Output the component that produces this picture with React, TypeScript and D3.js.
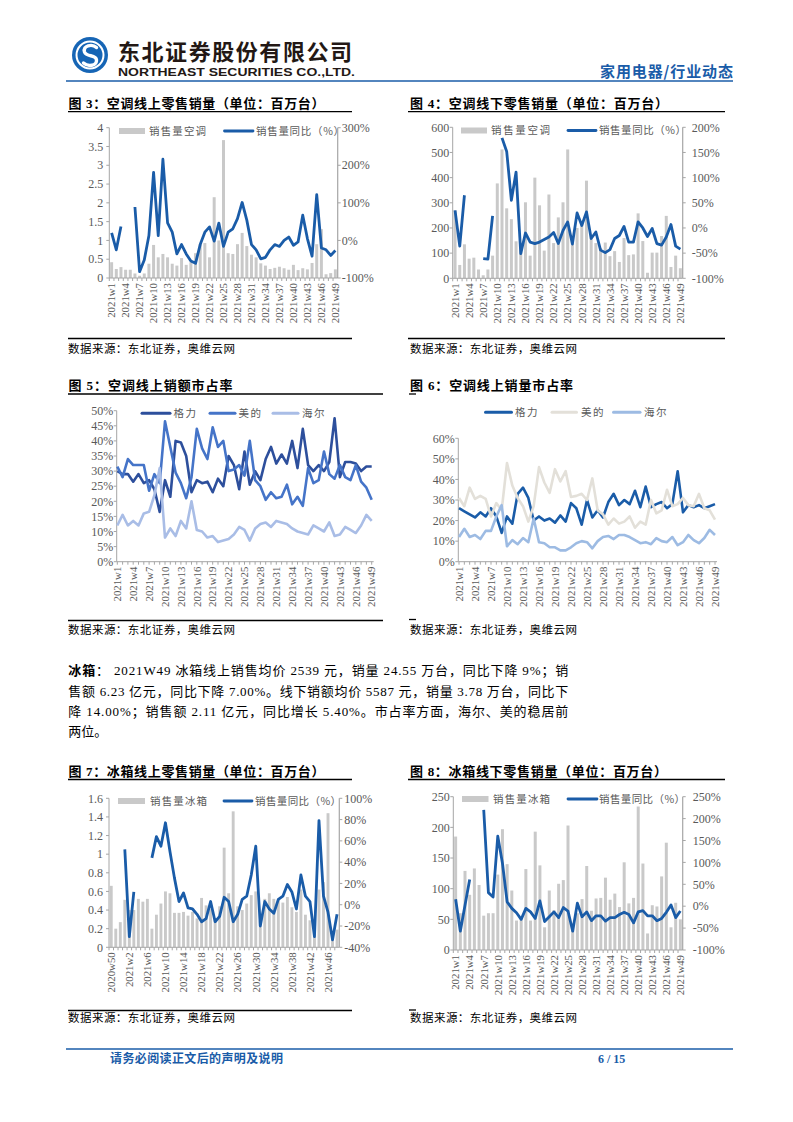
import React from 'react';
import * as d3 from 'd3';

// ---------------- data ----------------
const weeks2021 = d3.range(1, 50).map((w) => `2021w${w}`);
const fridgeOnlineWeeks = ['2020w50', '2020w51', '2020w52', ...d3.range(1, 49).map((w) => `2021w${w}`)];

// Fig 3: AC online retail volume (million units) and YoY (%)
const acOnlineVolume = [0.42, 0.24, 0.29, 0.22, 0.22, 0.12, 0.06, 0.12, 0.38, 0.88, 0.55, 0.64, 0.55, 0.38, 0.33, 0.53, 0.35, 0.42, 0.66, 0.9, 0.93, 0.55, 2.15, 1.0, 3.67, 0.66, 0.64, 0.9, 1.2, 0.85, 0.62, 0.55, 0.39, 0.33, 0.24, 0.27, 0.3, 0.26, 0.22, 0.35, 0.21, 0.26, 0.23, 0.4, 0.9, 1.3, 0.1, 0.13, 0.23];
const acOnlineYoY = [20, -25, 37, null, null, 89, -83, -52, 13, 181, 13, 216, 47, 22, -36, -11, -36, -55, -61, -11, 22, 36, -2, 46, -16, 22, 31, 58, 101, 54, -11, -25, -49, -45, -25, -11, -16, 0, 9, -13, -4, 67, 5, -42, 122, -20, -25, -40, -27];

// Fig 4: AC offline retail volume and YoY
const acOfflineVolume = [270, 53, 135, 78, 82, 35, 12, 35, 90, 377, 512, 278, 235, 147, 120, 302, 90, 400, 290, 110, 333, 140, 242, 302, 512, 150, 200, 220, 388, 170, 140, 120, 142, 88, 108, 65, 160, 92, 95, 258, 148, 22, 102, 102, 168, 248, 45, 90, 40];
const acOfflineYoY = [35, -36, 65, null, null, null, -61, -62, 24, null, 179, 152, 55, 111, -51, -10, -28, -31, -28, -23, -18, -9, -31, -5, 12, -32, 30, 5, 32, -21, -8, -44, -49, -43, -21, -15, 3, -28, -28, 12, 0, -17, -1, -31, -34, -18, 7, -36, -42];

// Fig 5: AC online sales-value market share (%)
const gree5 = [30, 29, 29, 26.5, 29, 26, 27, 24, 16.5, 27, 21.5, 40, 39.5, 35, 23, 27, 26, 26.5, 23, 27.5, 25, 35, 32, 24, 36.5, 25.5, 30, 27, 34, 38, 32.5, 35.5, 32.5, 40, 31, 44, 32, 30, 32, 30, 33, 47.5, 28, 33, 33, 32.5, 30, 31.5, 31.5];
const midea5 = [31.5, 28, 34, 32, 32, 32, 23.5, 29, 26, 46.5, 38, 29.5, 26, 21, 28, 44, 37.5, 34, 44.5, 38, 40, 30, 30.5, 32, 28.5, 40, 27, 25, 20.5, 23, 21, 21.5, 25.5, 19, 21.5, 18.5, 31, 26, 27, 36.5, 29, 27.5, 32, 28, 27, 32, 26.5, 24.5, 20.5];
const haier5 = [12, 15.5, 12, 13.5, 12, 16, 16.5, 22, 31, 8, 11, 8.5, 13.5, 11, 20, 10.5, 10, 8, 8.5, 6.5, 7, 7.5, 9, 11.5, 10.5, 7, 11, 12.5, 13, 11.5, 13.5, 13, 12.5, 11, 10, 9.5, 9, 12, 11, 10, 13, 8.5, 9, 11.5, 10.5, 9.5, 12, 15.5, 13.5];

// Fig 6: AC online volume market share (%)
const gree6 = [26, 24.5, 23, 21.5, 24, 22, 26, 22, 14, 22, 18.5, 33, 36, 31, 20, 22, 20, 21, 19, 22.5, 19.5, 28.5, 26, 18, 30, 21.5, 25, 21.5, 29, 33, 27.5, 30, 28, 34.5, 26.5, 36.5, 26.5, 28, 29, 26, 28, 44, 24, 27.5, 26.5, 27.5, 26, 27, 28];
const midea6 = [31, 27, 36, 30.5, 32, 30.5, 22, 28.5, 25, 48, 37, 31, 27, 19.5, 27, 46, 38.5, 33.5, 45, 39, 44, 31.5, 32, 33, 30, 40.5, 25, 23, 18, 21, 18.5, 19.5, 22, 16.5, 19.5, 18, 30, 23.5, 25, 35, 27, 28, 31, 27.5, 27, 33, 26, 25, 20.5];
const haier6 = [12, 16, 12, 13, 11, 15, 15, 22, 27.5, 7.5, 10.5, 8.5, 11.5, 9.5, 21, 9.5, 9, 7, 7, 5.5, 5.5, 7, 9, 10, 9.5, 6.5, 10, 12, 12.5, 11, 13, 13, 12, 10.5, 9, 9.5, 8.5, 11.5, 10, 9.5, 12, 8, 9.5, 13, 10.5, 9, 11.5, 15.5, 13];

// Fig 7: fridge online retail volume and YoY
const fridgeOnlineVolume = [0.66, 0.2, 0.27, 0.51, 0.4, 0.4, 0.52, 0.49, 0.52, 0.2, 0.35, 0.47, 0.6, 0.58, 0.37, 0.37, 0.38, 0.34, 0.38, 0.31, 0.53, 0.45, 0.41, 0.31, 0.44, 1.07, 0.58, 1.46, 0.44, 0.4, 0.47, 0.56, 0.6, 0.28, 0.52, 0.58, 0.52, 0.52, 0.48, 0.54, 0.43, 0.38, 0.62, 0.35, 0.29, 0.24, 0.62, 0.7, 1.44, 0.16, 0.19];
const fridgeOnlineYoY = [null, null, null, 52, -30, 12, null, null, null, 44, 64, 55, 77, 50, 25, 3, 11, -3, -4, -9, -16, -13, 3, -16, -11, 7, 3, -16, -9, 5, 8, 28, 55, -20, 3, -4, -8, 5, 8, 19, 12, -4, 28, 8, 3, -30, 79, 8, -7, -33, -9];

// Fig 8: fridge offline retail volume and YoY
const fridgeOfflineVolume = [185, 60, 129, 90, 133, 106, 56, 60, 60, 123, 197, 140, 97, 48, 50, 132, 48, 193, 138, 37, 97, 65, 108, 114, 203, 40, 60, 83, 137, 64, 84, 85, 118, 82, 92, 70, 143, 76, 85, 234, 141, 27, 73, 71, 120, 175, 37, 77, 50];
const fridgeOfflineYoY = [16, -57, 2, 61, null, null, 220, 31, 21, 160, 98, 10, -5, -15, -30, -5, -13, -28, 12, -35, -24, -13, -26, -3, -11, -57, 7, -24, -13, -33, -22, -22, -34, -26, -26, -19, -14, -19, -38, -13, -10, -22, -22, -33, -28, -14, 3, -26, -11];

const brandNames = ['格力', '美的', '海尔'];

const paragraphLines = [
  ' 2021W49 冰箱线上销售均价 2539 元，销量 24.55 万台，同比下降 9%；销',
  '售额 6.23 亿元，同比下降 7.00%。线下销额均价 5587 元，销量 3.78 万台，同比下',
  '降 14.00%；销售额 2.11 亿元，同比增长 5.40%。市占率方面，海尔、美的稳居前',
  '两位。',
];

// ---------------- style ----------------
const SERIF = "'Liberation Serif','Times New Roman','Noto Sans CJK SC',serif";
const CJK = "'Noto Sans CJK SC','Liberation Sans',sans-serif";
const BLUE = '#1a5ca8';
const BAR_GRAY = '#c9c9c9';
const AXIS = '#a6a6a6';
const TXT = '#595959';

type Num = number | null;

function fmtNum(v: number) {
  return String(+v.toFixed(2));
}

function XLabels({ xs, labels, y }: { xs: number[]; labels: string[]; y: number }) {
  return (
    <g>
      {labels.map((t, i) => (
        <text
          key={i}
          transform={`translate(${xs[i]},${y}) rotate(-90)`}
          textAnchor="end"
          dy="0.35em"
          fontSize={10.8}
          fill={TXT}
          fontFamily={SERIF}
        >
          {t}
        </text>
      ))}
    </g>
  );
}

type BLProps = {
  cats: string[];
  bars: number[];
  yoy: Num[];
  left: number;
  right: number;
  top: number;
  bottom: number;
  lDomain: [number, number];
  lStep: number;
  rDomain: [number, number];
  rStep: number;
  labelEvery: number;
  lGap: number;
  rGap: number;
  legend: {
    boxX: number; boxW: number; y: number; t1X: number; t1Len: number;
    lX1: number; lX2: number; t2X: number; t2Len: number; label1: string; label2: string;
  };
};

function BarLineChart(p: BLProps) {
  const x = d3.scaleBand<string>().domain(p.cats).range([p.left, p.right]).paddingInner(0.36).paddingOuter(0.18);
  const cx = (i: number) => (x(p.cats[i]) as number) + x.bandwidth() / 2;
  const yL = d3.scaleLinear().domain(p.lDomain).range([p.bottom, p.top]);
  const yR = d3.scaleLinear().domain(p.rDomain).range([p.bottom, p.top]);
  const lTicks = d3.range(p.lDomain[0], p.lDomain[1] + p.lStep / 2, p.lStep);
  const rTicks = d3.range(p.rDomain[0], p.rDomain[1] + p.rStep / 2, p.rStep);
  const line = d3
    .line<Num>()
    .defined((d) => d != null)
    .x((_d, i) => cx(i))
    .y((d) => yR(d as number));
  const step = x.step();
  const labelIdx = p.cats.map((_c, i) => i).filter((i) => i % p.labelEvery === 0);
  const lg = p.legend;
  return (
    <g>
      {p.bars.map((v, i) => (
        <rect key={i} x={x(p.cats[i])} y={yL(v)} width={x.bandwidth()} height={p.bottom - yL(v)} fill={BAR_GRAY} />
      ))}
      {/* axes */}
      <line x1={p.left} x2={p.left} y1={p.top} y2={p.bottom} stroke={AXIS} strokeWidth={1} />
      <line x1={p.right} x2={p.right} y1={p.top} y2={p.bottom} stroke={AXIS} strokeWidth={1.2} />
      <line x1={p.left} x2={p.right} y1={p.bottom} y2={p.bottom} stroke={AXIS} strokeWidth={1} />
      {lTicks.map((t, i) => (
        <g key={'l' + i}>
          <line x1={p.left - 3} x2={p.left} y1={yL(t)} y2={yL(t)} stroke={AXIS} />
          <text x={p.left - p.lGap} y={yL(t)} dy="0.35em" textAnchor="end" fontSize={12} fill={TXT} fontFamily={SERIF}>
            {fmtNum(t)}
          </text>
        </g>
      ))}
      {rTicks.map((t, i) => (
        <g key={'r' + i}>
          <line x1={p.right} x2={p.right + 3} y1={yR(t)} y2={yR(t)} stroke={AXIS} />
          <text x={p.right + p.rGap} y={yR(t)} dy="0.35em" textAnchor="start" fontSize={12} fill={TXT} fontFamily={SERIF}>
            {`${t}%`}
          </text>
        </g>
      ))}
      {p.cats.map((_c, i) => (
        <line key={'xt' + i} x1={p.left + step * i} x2={p.left + step * i} y1={p.bottom} y2={p.bottom + 3} stroke={AXIS} />
      ))}
      <path d={line(p.yoy) || ''} fill="none" stroke={BLUE} strokeWidth={2.8} strokeLinejoin="round" />
      <XLabels xs={labelIdx.map(cx)} labels={labelIdx.map((i) => p.cats[i])} y={p.bottom + 5} />
      {/* legend */}
      <rect x={lg.boxX} y={lg.y - 3} width={lg.boxW} height={6} fill={BAR_GRAY} />
      <text x={lg.t1X} y={lg.y} dy="0.36em" fontSize={10.5} fill={TXT} fontFamily={CJK} textLength={lg.t1Len} lengthAdjust="spacing">
        {lg.label1}
      </text>
      <line x1={lg.lX1} x2={lg.lX2} y1={lg.y} y2={lg.y} stroke={BLUE} strokeWidth={2.8} strokeLinecap="round" />
      <text x={lg.t2X} y={lg.y} dy="0.36em" fontSize={10.5} fill={TXT} fontFamily={CJK} textLength={lg.t2Len} lengthAdjust="spacing">
        {lg.label2}
      </text>
    </g>
  );
}

type ShareProps = {
  cats: string[];
  series: { name: string; data: number[]; color: string }[];
  axisX: number;
  x0: number;
  x1: number;
  top: number;
  bottom: number;
  yMax: number;
  yStep: number;
  legendY: number;
  legendPos: { lx1: number; lx2: number; tx: number }[];
};

function ShareChart(p: ShareProps) {
  const x = d3.scalePoint<string>().domain(p.cats).range([p.x0, p.x1]);
  const y = d3.scaleLinear().domain([0, p.yMax]).range([p.bottom, p.top]);
  const ticks = d3.range(0, p.yMax + p.yStep / 2, p.yStep);
  const labelIdx = p.cats.map((_c, i) => i).filter((i) => i % 3 === 0);
  const px = (i: number) => x(p.cats[i]) as number;
  const line = d3
    .line<number>()
    .x((_d, i) => px(i))
    .y((d) => y(d));
  return (
    <g>
      <line x1={p.axisX} x2={p.axisX} y1={p.top} y2={p.bottom} stroke={AXIS} />
      <line x1={p.axisX} x2={p.x1 + 2} y1={p.bottom} y2={p.bottom} stroke={AXIS} />
      {ticks.map((t, i) => (
        <g key={i}>
          <line x1={p.axisX - 3} x2={p.axisX} y1={y(t)} y2={y(t)} stroke={AXIS} />
          <text x={p.axisX - 3.5} y={y(t)} dy="0.35em" textAnchor="end" fontSize={12} fill={TXT} fontFamily={SERIF}>
            {`${t}%`}
          </text>
        </g>
      ))}
      {p.cats.map((_c, i) => (
        <line key={'xt' + i} x1={px(i)} x2={px(i)} y1={p.bottom} y2={p.bottom + 3} stroke={AXIS} />
      ))}
      {p.series.map((s) => (
        <path key={s.name} d={line(s.data) || ''} fill="none" stroke={s.color} strokeWidth={2.6} strokeLinejoin="round" />
      ))}
      <XLabels xs={labelIdx.map(px)} labels={labelIdx.map((i) => p.cats[i])} y={p.bottom + 5} />
      {p.series.map((s, i) => (
        <g key={'lg' + i}>
          <line x1={p.legendPos[i].lx1} x2={p.legendPos[i].lx2} y1={p.legendY} y2={p.legendY} stroke={s.color} strokeWidth={3} strokeLinecap="round" />
          <text x={p.legendPos[i].tx} y={p.legendY} dy="0.36em" fontSize={10.5} fill={TXT} fontFamily={CJK} letterSpacing={1.5}>
            {s.name}
          </text>
        </g>
      ))}
    </g>
  );
}

function Title({ x, y, text, len }: { x: number; y: number; text: string; len: number }) {
  return (
    <text x={x} y={y} fontSize={13} fontWeight="bold" fill="#000" fontFamily={SERIF} textLength={len} lengthAdjust="spacing">
      {text}
    </text>
  );
}

function Source({ x, y }: { x: number; y: number }) {
  return (
    <text x={x} y={y} fontSize={11.5} fill="#000" fontFamily={CJK} textLength={167} lengthAdjust="spacing">
      数据来源：东北证券，奥维云网
    </text>
  );
}

function Rule({ x1, x2, y, w = 1.3 }: { x1: number; x2: number; y: number; w?: number }) {
  return <line x1={x1} x2={x2} y1={y} y2={y} stroke="#000" strokeWidth={w} />;
}

export default function App() {
  return (
    <svg width={793} height={1122} viewBox="0 0 793 1122" style={{ position: 'absolute', left: 0, top: 0, background: '#fff' }}>
      <rect x={0} y={0} width={793} height={1122} fill="#fff" />
      {/* header */}
      <g>
        <circle cx={90} cy={55} r={18} fill="#1665b5" />
        <circle cx={90} cy={55} r={13.5} fill="none" stroke="#fff" strokeWidth={2} />
        <path d="M 96.5 47.5 C 92 43.5, 82.5 45.5, 84.5 52 C 86.5 57.5, 96 54, 96.5 60 C 97 66, 88 67, 83.5 63" fill="none" stroke="#fff" strokeWidth={3.4} strokeLinecap="round" />
        <text x={118} y={60} fontSize={22} fontWeight="bold" fill="#231815" fontFamily={CJK} textLength={234} lengthAdjust="spacing">
          东北证券股份有限公司
        </text>
        <text x={118} y={75.5} fontSize={10.5} fontWeight="bold" fill="#231815" fontFamily="'Liberation Sans','DejaVu Sans',sans-serif" textLength={237} lengthAdjust="spacingAndGlyphs">
          NORTHEAST SECURITIES CO.,LTD.
        </text>
        <text x={600} y={76.5} fontSize={15} fontWeight="bold" fill={BLUE} fontFamily={CJK} textLength={133} lengthAdjust="spacing">
          家用电器/行业动态
        </text>
        <line x1={66} x2={733} y1={81} y2={81} stroke={BLUE} strokeWidth={1.5} />
      </g>

      {/* Fig 3 */}
      <Title x={68.5} y={108} text="图 3：空调线上零售销量（单位：百万台）" len={256} />
      <Rule x1={68} x2={352} y={111.7} />
      <BarLineChart
        cats={weeks2021}
        bars={acOnlineVolume}
        yoy={acOnlineYoY}
        left={109.3}
        right={337.7}
        top={127.7}
        bottom={278}
        lDomain={[0, 4]}
        lStep={0.5}
        rDomain={[-100, 300]}
        rStep={100}
        labelEvery={3}
        lGap={6}
        rGap={4}
        legend={{ boxX: 119, boxW: 26, y: 131, t1X: 149, t1Len: 57, lX1: 224.5, lX2: 253, t2X: 256, t2Len: 88, label1: '销售量空调', label2: '销售量同比（%）' }}
      />
      <Rule x1={68} x2={352} y={338.5} />
      <Source x={68} y={352.5} />

      {/* Fig 4 */}
      <Title x={410} y={108} text="图 4：空调线下零售销量（单位：百万台）" len={258} />
      <Rule x1={408} x2={725} y={111.7} />
      <BarLineChart
        cats={weeks2021}
        bars={acOfflineVolume}
        yoy={acOfflineYoY}
        left={452.7}
        right={682.7}
        top={127.3}
        bottom={278.3}
        lDomain={[0, 600]}
        lStep={100}
        rDomain={[-100, 200]}
        rStep={50}
        labelEvery={3}
        lGap={3.5}
        rGap={9}
        legend={{ boxX: 461, boxW: 26, y: 130.5, t1X: 491, t1Len: 59, lX1: 568, lX2: 596, t2X: 599, t2Len: 87, label1: '销售量空调', label2: '销售量同比（%）' }}
      />
      <Rule x1={408} x2={725} y={338.5} />
      <Source x={410} y={352.5} />

      {/* Fig 5 */}
      <Title x={68.5} y={390} text="图 5：空调线上销额市占率" len={164} />
      <Rule x1={68} x2={383} y={394} />
      <ShareChart
        cats={weeks2021}
        series={[
          { name: brandNames[0], data: gree5, color: '#2d4f9c' },
          { name: brandNames[1], data: midea5, color: '#4574c8' },
          { name: brandNames[2], data: haier5, color: '#a9bde6' },
        ]}
        axisX={116.7}
        x0={117.3}
        x1={371.7}
        top={410.7}
        bottom={561.7}
        yMax={50}
        yStep={5}
        legendY={413.3}
        legendPos={[
          { lx1: 142, lx2: 170, tx: 173.5 },
          { lx1: 210, lx2: 235, tx: 238.5 },
          { lx1: 273, lx2: 298, tx: 302 },
        ]}
      />
      <Rule x1={68} x2={383} y={620.5} />
      <Source x={68} y={634} />

      {/* Fig 6 */}
      <Title x={410} y={390} text="图 6：空调线上销量市占率" len={163} />
      <Rule x1={409} x2={416} y={394} />
      <ShareChart
        cats={weeks2021}
        series={[
          { name: brandNames[0], data: gree6, color: '#1a5ca8' },
          { name: brandNames[1], data: midea6, color: '#e3e0d9' },
          { name: brandNames[2], data: haier6, color: '#9dbbe3' },
        ]}
        axisX={458.3}
        x0={459}
        x1={715}
        top={438.3}
        bottom={561.7}
        yMax={60}
        yStep={10}
        legendY={412.3}
        legendPos={[
          { lx1: 485.5, lx2: 511.5, tx: 515 },
          { lx1: 552, lx2: 576.5, tx: 581 },
          { lx1: 613.5, lx2: 640, tx: 644 },
        ]}
      />
      <Rule x1={409} x2={416} y={619.5} />
      <Source x={410} y={634} />

      {/* paragraph */}
      <g fontFamily={SERIF} fontSize={13} fill="#000">
        <text x={68.3} y={675} textLength={500} lengthAdjust="spacing">
          <tspan fontWeight="bold" fontFamily={CJK}>冰箱</tspan>
          <tspan>：</tspan>
          {paragraphLines[0]}
        </text>
        <text x={68.3} y={696} textLength={500} lengthAdjust="spacing">
          {paragraphLines[1]}
        </text>
        <text x={68.3} y={716} textLength={500} lengthAdjust="spacing">
          {paragraphLines[2]}
        </text>
        <text x={68.3} y={736}>
          {paragraphLines[3]}
        </text>
      </g>

      {/* Fig 7 */}
      <Title x={68.5} y={776} text="图 7：冰箱线上零售销量（单位：百万台）" len={256} />
      <Rule x1={68} x2={352} y={779.5} />
      <BarLineChart
        cats={fridgeOnlineWeeks}
        bars={fridgeOnlineVolume}
        yoy={fridgeOnlineYoY}
        left={109}
        right={339.3}
        top={798.3}
        bottom={947.3}
        lDomain={[0, 1.6]}
        lStep={0.2}
        rDomain={[-40, 100]}
        rStep={20}
        labelEvery={4}
        lGap={6}
        rGap={5}
        legend={{ boxX: 118, boxW: 27, y: 801, t1X: 150, t1Len: 57, lX1: 224, lX2: 252, t2X: 255, t2Len: 86, label1: '销售量冰箱', label2: '销售量同比（%）' }}
      />
      <Rule x1={68} x2={352} y={1010.5} />
      <Source x={68} y={1022} />

      {/* Fig 8 */}
      <Title x={410} y={776} text="图 8：冰箱线下零售销量（单位：百万台）" len={257} />
      <Rule x1={408} x2={725} y={779.5} />
      <BarLineChart
        cats={weeks2021}
        bars={fridgeOfflineVolume}
        yoy={fridgeOfflineYoY}
        left={453.3}
        right={682.7}
        top={796.7}
        bottom={950}
        lDomain={[0, 250]}
        lStep={50}
        rDomain={[-100, 250]}
        rStep={50}
        labelEvery={3}
        lGap={3.5}
        rGap={10}
        legend={{ boxX: 462, boxW: 26.5, y: 799, t1X: 493, t1Len: 57, lX1: 568, lX2: 597, t2X: 599, t2Len: 86, label1: '销售量冰箱', label2: '销售量同比（%）' }}
      />
      <Rule x1={409} x2={416} y={1010} />
      <Source x={410} y={1022} />

      {/* footer */}
      <line x1={66} x2={733} y1={1049} y2={1049} stroke={BLUE} strokeWidth={1.5} />
      <text x={110} y={1063} fontSize={12} fontWeight="bold" fill={BLUE} fontFamily={CJK} textLength={173} lengthAdjust="spacing">
        请务必阅读正文后的声明及说明
      </text>
      <text x={598} y={1063} fontSize={12} fontWeight="bold" fill={BLUE} fontFamily={SERIF}>
        6 / 15
      </text>
    </svg>
  );
}
